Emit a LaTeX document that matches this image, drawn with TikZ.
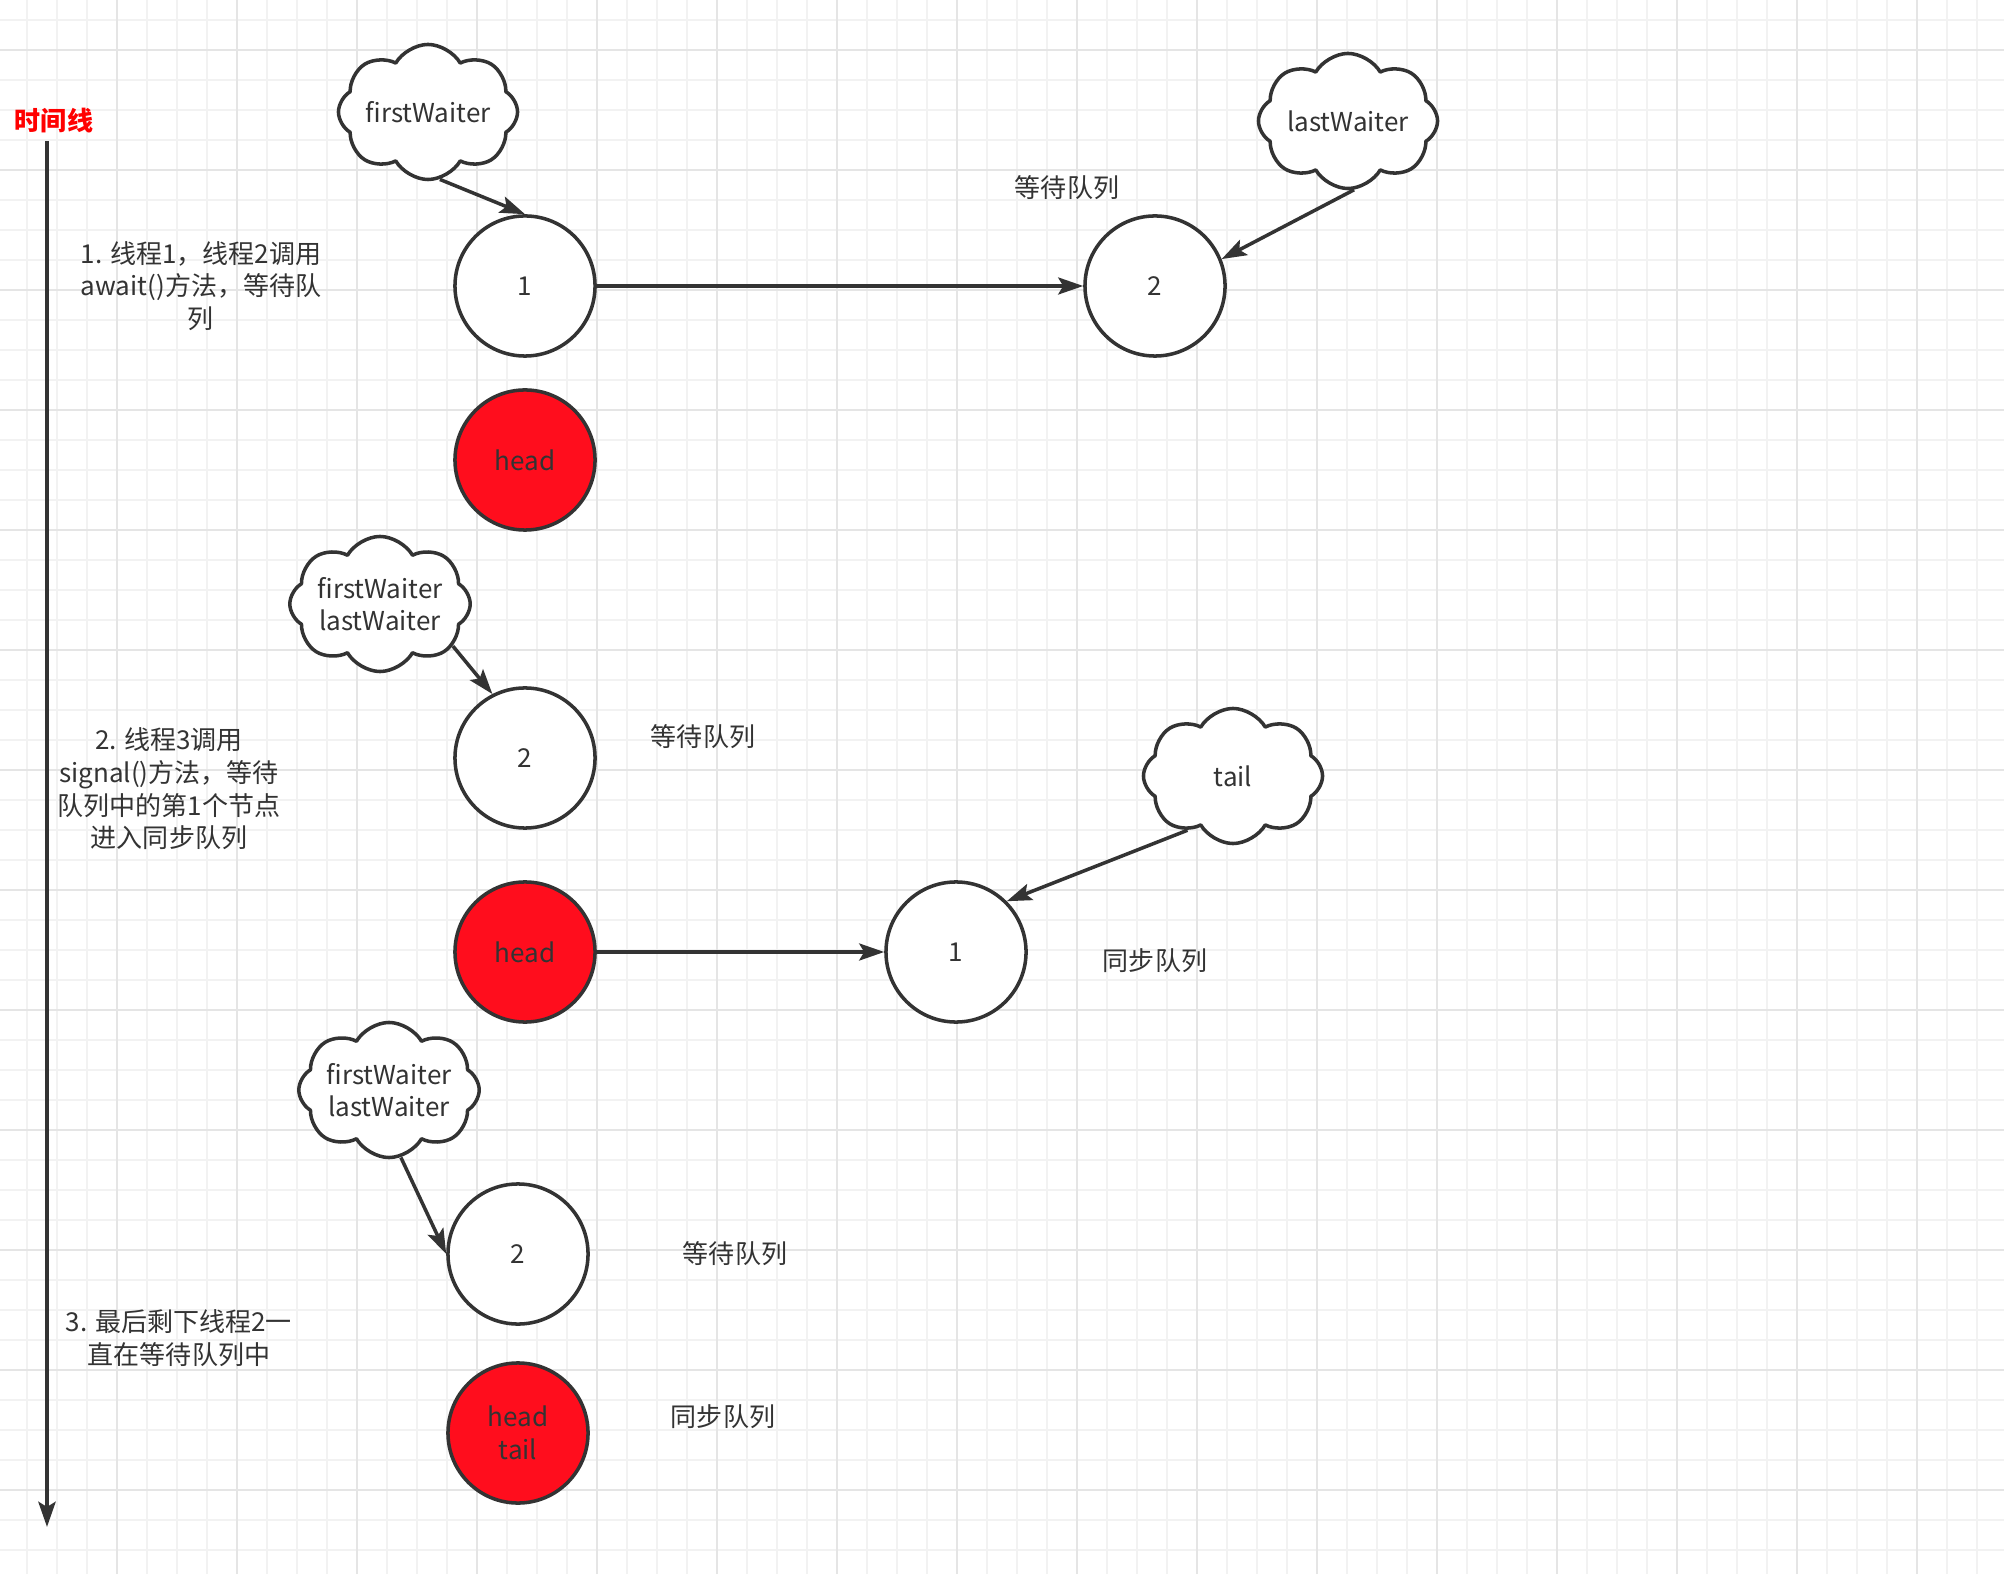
\documentclass[tikz,border=0pt]{standalone}
\usepackage{fontspec}
\setmainfont{Noto Sans CJK SC}
\usetikzlibrary{arrows.meta,shapes.symbols}
\definecolor{inkgray}{HTML}{333333}
\definecolor{headred}{HTML}{FF0D1D}
\tikzset{qnode/.style={circle,draw=inkgray,line width=1pt,fill=white,minimum size=1.4cm,inner sep=0pt,text=inkgray,align=center},
  headnode/.style={qnode,fill=headred},
  ptr/.style={cloud,cloud puffs=8,cloud puff arc=120,cloud ignores aspect,draw=inkgray,line width=1pt,fill=white,minimum width=1.79cm,minimum height=1.35cm,inner sep=0pt,align=center,text=inkgray},
  lbl/.style={text=inkgray,align=center},
  link/.style={->,draw=inkgray,line width=1pt},
  gridminor/.style={black!5,line width=0.5pt},
  gridmajor/.style={black!10,line width=0.6pt}}

\begin{document}
\begin{tikzpicture}[x=0.01cm,y=-0.01cm,>={Stealth[length=0.25cm,width=0.17cm,inset=0.05cm]},line join=round,font=\fontsize{7.4}{9.3}\selectfont]
% --- background grid
\fill[white] (0,0) rectangle (2004,1574);
\useasboundingbox (0,0) rectangle (2004,1574);
\foreach \x in {27,57,...,2004} \draw[gridminor] (\x,0) -- (\x,1574);
\foreach \y in {20,50,...,1574} \draw[gridminor] (0,\y) -- (2004,\y);
\foreach \x in {117,237,...,2004} \draw[gridmajor] (\x,0) -- (\x,1574);
\foreach \y in {50,170,...,1574} \draw[gridmajor] (0,\y) -- (2004,\y);
% --- time line
\node[text=red,font=\fontsize{7.4}{9.3}\selectfont\bfseries] (tline) at (54,121) {时间线};
\coordinate (tstart) at (47,141); \coordinate (tend) at (47,1527);
\draw[link,line width=1.3pt] (tstart) -- (tend);
% --- step texts
\node[lbl] (step1) at (201,286) {1. 线程1，线程2调用\\await()方法，等待队\\列};
\node[lbl] (step2) at (169,789) {2. 线程3调用\\signal()方法，等待\\队列中的第1个节点\\进入同步队列};
\node[lbl] (step3) at (179,1338) {3. 最后剩下线程2一\\直在等待队列中};
% --- 1: two waiting nodes
\node[qnode] (wa1) at (525,286) {1};
\node[qnode] (wa2) at (1155,286) {2};
\node[headnode] (hd1) at (525,460) {head};
\node[ptr] (fw1) at (428,112) {firstWaiter};
\node[ptr] (lw1) at (1348,121) {lastWaiter};
\node[lbl] (wq1) at (1067,188) {等待队列};
\draw[link] (fw1.-80) -- (wa1.north);
\draw[link] (wa1) -- (wa2);
\draw[link] (lw1.-85) -- (wa2.22);
% --- 2: node 1 moved to sync queue
\node[qnode] (wb2) at (525,758) {2};
\node[headnode] (hd2) at (525,952) {head};
\node[qnode] (sb1) at (956,952) {1};
\node[ptr] (fl2) at (380,604) {firstWaiter\\lastWaiter};
\node[ptr] (tl2) at (1233,776) {tail};
\node[lbl] (wq2) at (703,737) {等待队列};
\node[lbl] (sq2) at (1155,961) {同步队列};
\draw[link] (fl2.-30) -- (wb2.117);
\draw[link] (hd2) -- (sb1);
\draw[link] (tl2.-130) -- (sb1.north east);
% --- 3: thread 2 left waiting
\node[qnode] (wc2) at (518,1254) {2};
\node[headnode] (hd3) at (518,1433) {head\\tail};
\node[ptr] (fl3) at (389,1090) {firstWaiter\\lastWaiter};
\node[lbl] (wq3) at (735,1254) {等待队列};
\node[lbl] (sq3) at (723,1417) {同步队列};
\draw[link] (fl3.-80) -- (wc2.west);
\end{tikzpicture}
\end{document}
